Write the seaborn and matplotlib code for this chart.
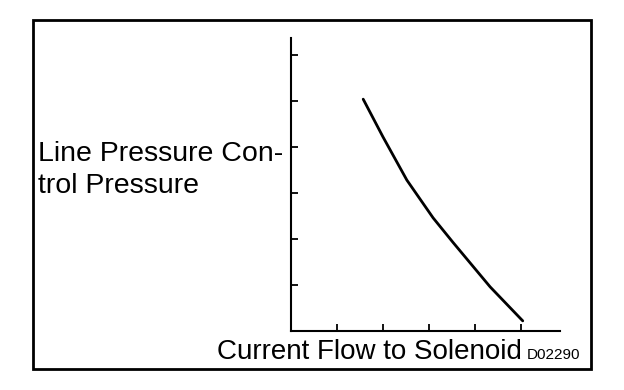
import matplotlib
matplotlib.use('Agg')
import matplotlib.pyplot as plt
import seaborn as sns
import pandas as pd
from matplotlib.patches import Rectangle

# curve (arbitrary units, 1 tick = 1 unit)
current = [1.57, 2.0, 2.52, 3.09, 3.52, 4.33, 5.04]
pressure = [5.04, 4.22, 3.28, 2.46, 1.93, 0.96, 0.22]
x_ticks = [1, 2, 3, 4, 5]
y_ticks = [1, 2, 3, 4, 5, 6]

df = pd.DataFrame({'current': current, 'pressure': pressure})

sns.set_theme(style='white')
plt.rcParams['font.family'] = ['Liberation Sans', 'DejaVu Sans']

W, H = 624, 390
fig = plt.figure(figsize=(W / 100, H / 100), dpi=100)
ax = fig.add_axes([291 / W, (H - 331) / H, 269 / W, 293 / H])

sns.lineplot(data=df, x='current', y='pressure', color='black',
             linewidth=2, ax=ax)

ax.set_xlim(0, 5.85)
ax.set_ylim(0, 6.37)
ax.set_xticks(x_ticks)
ax.set_yticks(y_ticks)
ax.set_xticklabels([])
ax.set_yticklabels([])
ax.tick_params(direction='in', length=5, width=1.3, color='black',
               bottom=True, left=True)
ax.set_xlabel('')
ax.set_ylabel('')
sns.despine(ax=ax)
for s in ['left', 'bottom']:
    ax.spines[s].set_color('black')
    ax.spines[s].set_linewidth(1.5)

# outer frame
fig.patches.append(Rectangle((33 / W, (H - 369) / H), 558 / W, 349 / H,
                             transform=fig.transFigure, fill=False,
                             edgecolor='black', linewidth=2))

fig.text(38 / W, (H - 161) / H, 'Line Pressure Con-', fontsize=20.5,
         va='baseline', ha='left', color='black')
fig.text(38 / W, (H - 193) / H, 'trol Pressure', fontsize=20.5,
         va='baseline', ha='left', color='black')
fig.text(217 / W, (H - 359) / H, 'Current Flow to Solenoid', fontsize=20,
         va='baseline', ha='left', color='black')
fig.text(527 / W, (H - 359) / H, 'D02290', fontsize=11,
         va='baseline', ha='left', color='black')

fig.savefig('out.png', dpi=100, facecolor='white')
